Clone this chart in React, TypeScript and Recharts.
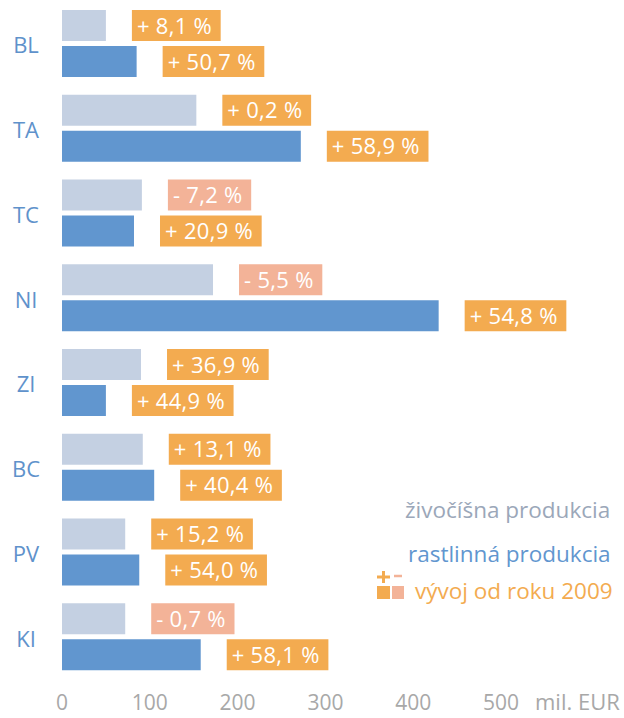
import React from 'react'
import { BarChart, Bar, XAxis, YAxis, LabelList } from 'recharts'

// regions and values (mil. EUR), change since 2009 in %
const regions = ['BL', 'TA', 'TC', 'NI', 'ZI', 'BC', 'PV', 'KI']
const animalValues = [50, 153, 91, 172, 90, 92, 72, 72]
const plantValues = [85, 272, 82, 429, 50, 105, 88, 158]
const animalChange = [8.1, 0.2, -7.2, -5.5, 36.9, 13.1, 15.2, -0.7]
const plantChange = [50.7, 58.9, 20.9, 54.8, 44.9, 40.4, 54.0, 58.1]
const xTicks = [0, 100, 200, 300, 400, 500]

const colors = {
  animal: '#c4d0e2',
  plant: '#6196cf',
  up: '#f3ab50',
  down: '#f3b398',
  region: '#5f92cb',
  tick: '#a8a8a8',
  animalText: '#9ba7b9',
}

const font = '"Open Sans", sans-serif'
const labelFontSize = 22
const labelSpacing = 0.3

// rough Open Sans advance widths (em)
const charWidth: Record<string, number> = {
  '+': 0.572, '-': 0.322, ' ': 0.26, ',': 0.245, '%': 0.823,
}
function textWidth(s: string): number {
  let w = 0
  for (const ch of s) w += (charWidth[ch] ?? 0.572) * labelFontSize + labelSpacing
  return w
}

function formatChange(v: number): string {
  return `${v < 0 ? '-' : '+'} ${Math.abs(v).toFixed(1).replace('.', ',')} %`
}

const data = regions.map((r, i) => ({
  region: r,
  animal: animalValues[i],
  plant: plantValues[i],
}))

function makeChangeLabel(changes: number[]) {
  return (props: any) => {
    const { x, y, width, height, index } = props
    const v = changes[index]
    const text = formatChange(v)
    const bx = Number(x) + Number(width) + 26
    const w = textWidth(text) + 14
    return (
      <g>
        <rect x={bx} y={y} width={w} height={height} fill={v < 0 ? colors.down : colors.up} />
        <text
          x={bx + 5}
          y={Number(y) + Number(height) / 2}
          dy={8}
          fill="#fff"
          fontSize={labelFontSize}
          fontFamily={font}
          letterSpacing={labelSpacing}
        >
          {text}
        </text>
      </g>
    )
  }
}

function RegionTick({ x, y, payload }: any) {
  return (
    <text x={x - 28} y={y} dy={10} textAnchor="middle" fill={colors.region} fontSize={22} fontFamily={font}>
      {payload.value}
    </text>
  )
}

function UnitLabel({ viewBox }: any) {
  return (
    <text
      x={viewBox.x + viewBox.width + 34}
      y={viewBox.y + 31}
      fill={colors.tick}
      fontSize={22}
      fontFamily={font}
    >
      mil. EUR
    </text>
  )
}

function LegendBox() {
  return (
    <svg width={264} height={120} style={{ position: 'absolute', left: 360, top: 490 }}>
      <text x={45} y={28} fill={colors.animalText} fontSize={22.5} fontFamily={font}>
        živočíšna produkcia
      </text>
      <text x={48} y={72} fill={colors.plant} fontSize={22.5} fontFamily={font}>
        rastlinná produkcia
      </text>
      <line x1={17} x2={30} y1={87} y2={87} stroke={colors.up} strokeWidth={3} />
      <line x1={23.5} x2={23.5} y1={81} y2={93} stroke={colors.up} strokeWidth={3} />
      <line x1={34} x2={42} y1={86} y2={86} stroke={colors.down} strokeWidth={2.5} />
      <rect x={17} y={96} width={13} height={13} fill={colors.up} />
      <rect x={32} y={96} width={12} height={13} fill={colors.down} />
      <text x={55} y={109} fill={colors.up} fontSize={22.5} fontFamily={font}>
        vývoj od roku 2009
      </text>
    </svg>
  )
}

export default function App() {
  return (
    <div style={{ position: 'absolute', left: 0, top: 0, width: 624, height: 718, background: '#fff' }}>
      <BarChart
        width={624}
        height={718}
        data={data}
        layout="vertical"
        margin={{ top: 1, right: 123, bottom: 9, left: 0 }}
        barSize={31}
        barGap={5}
      >
        <XAxis
          type="number"
          domain={[0, 500]}
          ticks={xTicks}
          axisLine={false}
          tickLine={false}
          tickMargin={10}
          height={30}
          tick={{ fill: colors.tick, fontSize: 21, fontFamily: font }}
          label={<UnitLabel />}
        />
        <YAxis
          type="category"
          dataKey="region"
          width={62}
          axisLine={false}
          tickLine={false}
          tick={<RegionTick />}
        />
        <Bar dataKey="animal" fill={colors.animal} isAnimationActive={false}>
          <LabelList dataKey="animal" content={makeChangeLabel(animalChange)} />
        </Bar>
        <Bar dataKey="plant" fill={colors.plant} isAnimationActive={false}>
          <LabelList dataKey="plant" content={makeChangeLabel(plantChange)} />
        </Bar>
      </BarChart>
      <LegendBox />
    </div>
  )
}
